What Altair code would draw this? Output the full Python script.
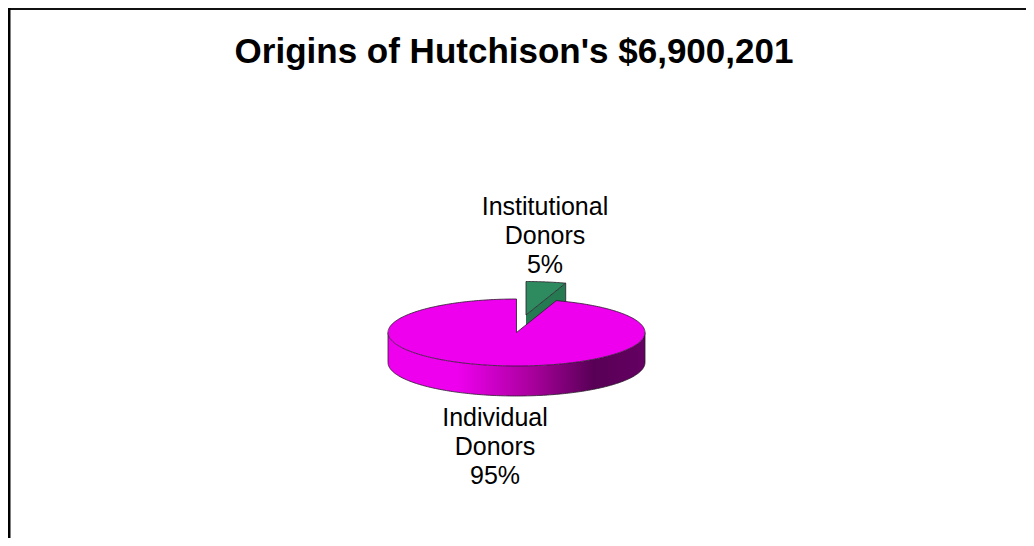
import numpy as np
import pandas as pd
import altair as alt

TITLE = "Origins of Hutchison's $6,900,201"
categories = ["Individual Donors", "Institutional Donors"]
shares = [95, 5]
label_lines = [["Institutional", "Donors", "5%"], ["Individual", "Donors", "95%"]]

W, H = 1018, 530
CX, CY, RX, RY, DEPTH = 516.5, 332.5, 128.5, 33.5, 30
EX, EY = 9.5, -17.5
MAG, GREEN_TOP, GREEN_SIDE, EDGE = "#EE00EE", "#2E8B60", "#267A52", "#2a1a2a"

sweep = np.deg2rad(shares[1] / sum(shares) * 360)
xs = alt.X("x:Q", axis=None, scale=alt.Scale(domain=[8, 8 + W], nice=False, zero=False))
ys = alt.Y("y:Q", axis=None, scale=alt.Scale(domain=[8 + H, 8], nice=False, zero=False))
y2 = alt.Y2("y2:Q")
ord_ = alt.Order("i:Q")


def ell(theta, cx=CX, cy=CY):
    # theta is measured clockwise from 12 o'clock
    return cx + RX * np.sin(theta), cy - RY * np.cos(theta)


def frame(x, y, yy=None):
    d = {"i": np.arange(len(x)), "x": x, "y": y}
    if yy is not None:
        d["y2"] = yy
    return pd.DataFrame(d)


def area(df, **kw):
    return alt.Chart(df).mark_area(orient="vertical", **kw).encode(x=xs, y=ys, y2=y2)


def line(df, width=0.8):
    return alt.Chart(df).mark_line(color=EDGE, strokeWidth=width).encode(x=xs, y=ys, order=ord_)


# --- exploded small slice
t = np.linspace(0, sweep, 30)
gx, gy = ell(t, CX + EX, CY + EY)
g0x, g0y = CX + EX, CY + EY
frac = (gx - g0x) / (gx[-1] - g0x)
g_chord = g0y + (gy[-1] - g0y) * frac
green_side = area(frame(gx, g_chord, g_chord + DEPTH), color=GREEN_SIDE)
green_top = area(frame(gx, gy, g_chord), color=GREEN_TOP)
green_out = line(frame(np.r_[g0x, gx, g0x], np.r_[g0y, gy, g0y]))
green_side_edge = line(frame(np.r_[gx[-1], gx[-1]], np.r_[gy[-1], gy[-1] + DEPTH]))

# --- rim of the large slice
u = np.linspace(-np.pi / 2, np.pi / 2, 181)
rx = CX + RX * np.sin(u)
low = CY + RY * np.cos(u)
rim = area(
    frame(rx, low, low + DEPTH),
    color=alt.Gradient(
        gradient="linear",
        x1=0, x2=1, y1=0, y2=0,
        stops=[
            alt.GradientStop(color=MAG, offset=0.27),
            alt.GradientStop(color="#A6009A", offset=0.57),
            alt.GradientStop(color="#580056", offset=0.8),
            alt.GradientStop(color="#640062", offset=1),
        ],
    ),
)
rim_out = line(frame(np.r_[rx[0], rx, rx[-1]], np.r_[CY, low + DEPTH, CY]))

# --- top face of the large slice, with the notch left by the small slice
ex, ey = ell(sweep)
left = np.linspace(CX - RX, CX - 1e-3, 100)
notch = np.linspace(CX, ex, 30)
right = np.linspace(ex + 1e-3, CX + RX, 100)
up = lambda x: CY - RY * np.sqrt(np.clip(1 - ((x - CX) / RX) ** 2, 0, 1))
dn = lambda x: CY + RY * np.sqrt(np.clip(1 - ((x - CX) / RX) ** 2, 0, 1))
tx = np.r_[left, notch, right]
ty = np.r_[up(left), CY + (ey - CY) * (notch - CX) / (ex - CX), up(right)]
top = area(frame(tx, ty, dn(tx)), color=MAG)
th = np.linspace(sweep, 2 * np.pi, 300)
ox, oy = ell(th)
top_out = line(frame(np.r_[CX, ox, CX], np.r_[CY, oy, CY]))

# --- text
tf = "Liberation Sans"
label_rows = []
for lines, cx, y0 in [(label_lines[0], 545, 207), (label_lines[1], 495, 417.5)]:
    for n, s in enumerate(lines):
        label_rows.append({"x": cx, "y": y0 + n * 29, "t": s})
labels = (
    alt.Chart(pd.DataFrame(label_rows))
    .mark_text(font=tf, fontSize=25, color="#000", align="center", baseline="middle")
    .encode(x=xs, y=ys, text="t:N")
)
title = (
    alt.Chart(pd.DataFrame({"x": [514], "y": [52], "t": [TITLE]}))
    .mark_text(font=tf, fontSize=35, fontWeight="bold", color="#000", align="center", baseline="middle")
    .encode(x=xs, y=ys, text="t:N")
)

# --- frame (top and left edges only)
b_top = alt.Chart(pd.DataFrame({"a": [0]})).mark_rule(color="#111", strokeWidth=2).encode(
    x=alt.value(0), x2=alt.value(W), y=alt.value(1)
)
b_left = alt.Chart(pd.DataFrame({"a": [0]})).mark_rule(color="#000", strokeWidth=3).encode(
    y=alt.value(0), y2=alt.value(H), x=alt.value(1)
)

chart = (
    alt.layer(
        b_top, b_left,
        green_side, green_side_edge, green_top, green_out,
        rim, rim_out, top, top_out,
        labels, title,
    )
    .properties(
        width=W, height=H, padding=0,
        autosize=alt.AutoSizeParams(type="none"),
        background="white",
    )
    .configure_view(stroke=None)
)

chart.save("out.html", embed_options={"renderer": "svg", "actions": False})
